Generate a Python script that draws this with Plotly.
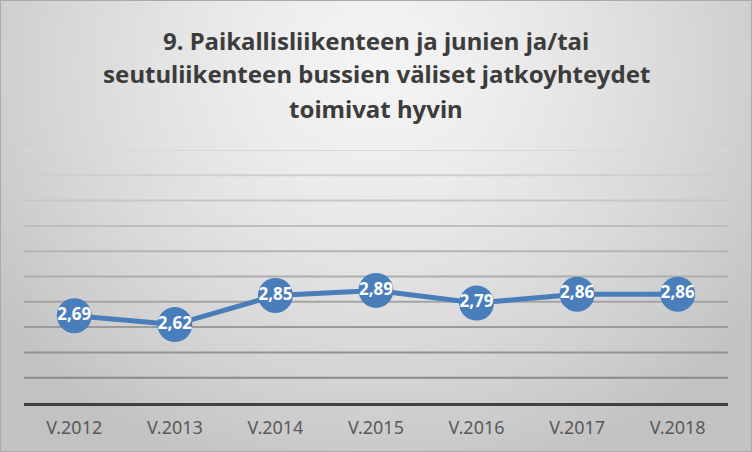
import zlib, struct, base64
import numpy as np
import plotly.graph_objects as go

# ---- data ----
categories = ["V.2012", "V.2013", "V.2014", "V.2015", "V.2016", "V.2017", "V.2018"]
values = [2.69, 2.62, 2.85, 2.89, 2.79, 2.86, 2.86]
labels = [f"{v:.2f}".replace(".", ",") for v in values]
title_lines = ["9. Paikallisliikenteen ja junien ja/tai",
               "seutuliikenteen bussien väliset jatkoyhteydet",
               "toimivat hyvin"]
y_min, y_max, y_step = 2.0, 4.0, 0.2

W, H = 752, 452
ML, MR, MT, MB = 24, 24, 150, 49

# ---- background radial gradient png ----
def make_png(w, h):
    rows = []
    cx, cy = 0.5, 0.15
    for j in range(h):
        row = bytearray([0])
        for i in range(w):
            dx = (i / (w - 1) - cx) * 1.0
            dy = (j / (h - 1) - cy) * 0.65
            d = (dx * dx + dy * dy) ** 0.5 / 0.62
            d = min(d, 1.0)
            c = int(round(244 - 50 * d ** 1.4))
            if i == 0 or j == 0 or i == w - 1 or j == h - 1:
                c = 170
            row += bytes([c, c, c])
        rows.append(bytes(row))
    raw = b"".join(rows)

    def chunk(t, d):
        return struct.pack(">I", len(d)) + t + d + struct.pack(">I", zlib.crc32(t + d) & 0xffffffff)

    ihdr = struct.pack(">IIBBBBB", w, h, 8, 2, 0, 0, 0)
    return b"\x89PNG\r\n\x1a\n" + chunk(b"IHDR", ihdr) + chunk(b"IDAT", zlib.compress(raw, 9)) + chunk(b"IEND", b"")

bg_uri = "data:image/png;base64," + base64.b64encode(make_png(W, H)).decode()

FONT = "Noto Sans, Open Sans, sans-serif"

fig = go.Figure()
fig.add_trace(go.Scatter(
    x=categories, y=values, mode="lines+markers+text",
    line=dict(color="#4a7ebb", width=5),
    marker=dict(size=35, color="#4a7ebb", line=dict(width=0)),
    text=labels, textposition="middle center",
    textfont=dict(family=FONT, size=17, color="white", weight="bold"),
    cliponaxis=False, hoverinfo="skip",
))

# gridlines (gradient colour from light top to darker bottom)
grid_vals = [round(y_min + y_step * k, 2) for k in range(1, int(round((y_max - y_min) / y_step)) + 1)]
shapes = []
n = len(grid_vals)
for k, gv in enumerate(grid_vals):
    t = k / (n - 1)
    c = int(round(138 + (216 - 138) * t))
    shapes.append(dict(type="line", xref="paper", yref="y", x0=0, x1=1, y0=gv, y1=gv,
                       line=dict(color=f"rgb({c},{c},{c})", width=2), layer="below"))

annotations = []
for k, line in enumerate(title_lines):
    py = 40 + 34 * k
    annotations.append(dict(text=line, xref="paper", yref="paper", x=0.5, xanchor="center",
                            y=(H - MB - py) / (H - MT - MB), yanchor="middle", showarrow=False,
                            font=dict(family=FONT, size=24, color="#3c3c3c", weight="bold")))

fig.update_layout(
    width=W, height=H, margin=dict(l=ML, r=MR, t=MT, b=MB),
    paper_bgcolor="#d8d8d8", plot_bgcolor="rgba(0,0,0,0)",
    showlegend=False,
    images=[dict(source=bg_uri, xref="paper", yref="paper", x=-ML / (W - ML - MR), y=1 + MT / (H - MT - MB),
                 sizex=W / (W - ML - MR), sizey=H / (H - MT - MB), sizing="stretch",
                 xanchor="left", yanchor="top", layer="below")],
    shapes=shapes, annotations=annotations,
    xaxis=dict(type="category", range=[-0.5, len(categories) - 0.5], showgrid=False,
               showline=True, linecolor="#404040", linewidth=3, ticks="",
               ticklabelstandoff=6,
               tickfont=dict(family=FONT, size=18, color="#595959"),
               fixedrange=True),
    yaxis=dict(range=[y_min, y_max], showgrid=False, zeroline=False, showticklabels=False,
               fixedrange=True),
)

fig.write_html("out.html")
